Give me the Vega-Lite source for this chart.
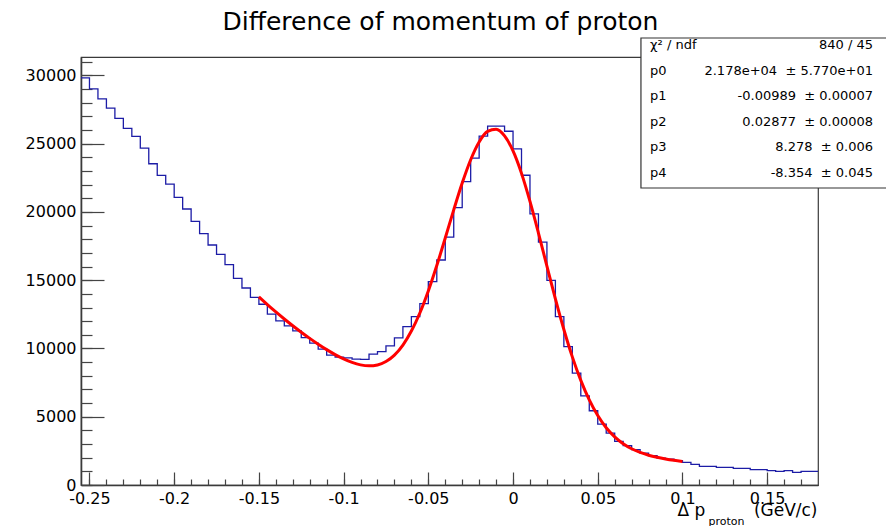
{
  "$schema": "https://vega.github.io/schema/vega-lite/v6.json",
  "width": 737,
  "height": 428,
  "autosize": {"type": "none"},
  "padding": {"left": 81, "top": 57, "right": 68, "bottom": 41},
  "background": "white",
  "config": {
    "view": {"stroke": "#3a3a3a", "strokeWidth": 1.2},
    "font": "DejaVu Sans",
    "axis": {"grid": false, "domain": false, "labelFont": "DejaVu Sans", "titleFont": "DejaVu Sans", "titleFontWeight": "normal", "titleColor": "#000", "labelColor": "#000", "tickColor": "#444", "tickWidth": 1.2, "labelFlush": false, "labelOverlap": false}
  },
  "title": {"text": "Difference of momentum of proton", "fontSize": 25, "font": "DejaVu Sans", "fontWeight": "normal", "anchor": "middle", "baseline": "alphabetic", "offset": 4, "dx": -9, "dy": 22, "color": "#000"},
  "datasets": {
    "hist": [
      {"dp": -0.255, "entries": 29825}, {"dp": -0.25, "entries": 29020}, {"dp": -0.245, "entries": 28290}, {"dp": -0.24, "entries": 27600},
      {"dp": -0.235, "entries": 26850}, {"dp": -0.23, "entries": 26115}, {"dp": -0.225, "entries": 25530}, {"dp": -0.22, "entries": 24675},
      {"dp": -0.215, "entries": 23530}, {"dp": -0.21, "entries": 22680}, {"dp": -0.205, "entries": 22040}, {"dp": -0.2, "entries": 21070},
      {"dp": -0.195, "entries": 20215}, {"dp": -0.19, "entries": 19310}, {"dp": -0.185, "entries": 18410}, {"dp": -0.18, "entries": 17580},
      {"dp": -0.175, "entries": 16900}, {"dp": -0.17, "entries": 16140}, {"dp": -0.165, "entries": 15140}, {"dp": -0.16, "entries": 14430},
      {"dp": -0.155, "entries": 13750}, {"dp": -0.15, "entries": 13240}, {"dp": -0.145, "entries": 12510}, {"dp": -0.14, "entries": 12020},
      {"dp": -0.135, "entries": 11650}, {"dp": -0.13, "entries": 11290}, {"dp": -0.125, "entries": 10800}, {"dp": -0.12, "entries": 10390},
      {"dp": -0.115, "entries": 9950}, {"dp": -0.11, "entries": 9510}, {"dp": -0.105, "entries": 9360}, {"dp": -0.1, "entries": 9310},
      {"dp": -0.095, "entries": 9220}, {"dp": -0.09, "entries": 9200}, {"dp": -0.085, "entries": 9590}, {"dp": -0.08, "entries": 9770},
      {"dp": -0.075, "entries": 10190}, {"dp": -0.07, "entries": 10770}, {"dp": -0.065, "entries": 11600}, {"dp": -0.06, "entries": 12340},
      {"dp": -0.055, "entries": 13290}, {"dp": -0.05, "entries": 14900}, {"dp": -0.045, "entries": 16480}, {"dp": -0.04, "entries": 18160},
      {"dp": -0.035, "entries": 20310}, {"dp": -0.03, "entries": 22215}, {"dp": -0.025, "entries": 23940}, {"dp": -0.02, "entries": 25550},
      {"dp": -0.015, "entries": 26280}, {"dp": -0.01, "entries": 26280}, {"dp": -0.005, "entries": 25910}, {"dp": 0, "entries": 24620},
      {"dp": 0.005, "entries": 22690}, {"dp": 0.01, "entries": 19860}, {"dp": 0.015, "entries": 17790}, {"dp": 0.02, "entries": 14990},
      {"dp": 0.025, "entries": 12330}, {"dp": 0.03, "entries": 10130}, {"dp": 0.035, "entries": 8190}, {"dp": 0.04, "entries": 6535},
      {"dp": 0.045, "entries": 5440}, {"dp": 0.05, "entries": 4460}, {"dp": 0.055, "entries": 3800}, {"dp": 0.06, "entries": 3190},
      {"dp": 0.065, "entries": 2880}, {"dp": 0.07, "entries": 2590}, {"dp": 0.075, "entries": 2340}, {"dp": 0.08, "entries": 2145},
      {"dp": 0.085, "entries": 1975}, {"dp": 0.09, "entries": 1900}, {"dp": 0.095, "entries": 1780}, {"dp": 0.1, "entries": 1660},
      {"dp": 0.105, "entries": 1510}, {"dp": 0.11, "entries": 1370}, {"dp": 0.115, "entries": 1370}, {"dp": 0.12, "entries": 1290},
      {"dp": 0.125, "entries": 1290}, {"dp": 0.13, "entries": 1220}, {"dp": 0.135, "entries": 1220}, {"dp": 0.14, "entries": 1120},
      {"dp": 0.145, "entries": 1120}, {"dp": 0.15, "entries": 1050}, {"dp": 0.155, "entries": 1000}, {"dp": 0.16, "entries": 1050},
      {"dp": 0.165, "entries": 930}, {"dp": 0.17, "entries": 1000}, {"dp": 0.175, "entries": 1000}, {"dp": 0.18, "entries": 1000}
    ],
    "fit": [
      {"dp": -0.15, "fit": 13781}, {"dp": -0.145, "fit": 13217}, {"dp": -0.14, "fit": 12677}, {"dp": -0.135, "fit": 12159},
      {"dp": -0.13, "fit": 11664}, {"dp": -0.125, "fit": 11190}, {"dp": -0.12, "fit": 10739}, {"dp": -0.115, "fit": 10314},
      {"dp": -0.11, "fit": 9916}, {"dp": -0.105, "fit": 9554}, {"dp": -0.1, "fit": 9236}, {"dp": -0.095, "fit": 8977},
      {"dp": -0.09, "fit": 8798}, {"dp": -0.085, "fit": 8727}, {"dp": -0.08, "fit": 8796}, {"dp": -0.075, "fit": 9046},
      {"dp": -0.07, "fit": 9518}, {"dp": -0.065, "fit": 10252}, {"dp": -0.06, "fit": 11275}, {"dp": -0.055, "fit": 12601},
      {"dp": -0.05, "fit": 14217}, {"dp": -0.045, "fit": 16075}, {"dp": -0.04, "fit": 18092}, {"dp": -0.035, "fit": 20154},
      {"dp": -0.03, "fit": 22116}, {"dp": -0.025, "fit": 23824}, {"dp": -0.02, "fit": 25127}, {"dp": -0.015, "fit": 25900},
      {"dp": -0.01, "fit": 26059}, {"dp": -0.005, "fit": 25572}, {"dp": 0, "fit": 24466}, {"dp": 0.005, "fit": 22825},
      {"dp": 0.01, "fit": 20771}, {"dp": 0.015, "fit": 18455}, {"dp": 0.02, "fit": 16027}, {"dp": 0.025, "fit": 13634},
      {"dp": 0.03, "fit": 11393}, {"dp": 0.035, "fit": 9386}, {"dp": 0.04, "fit": 7661}, {"dp": 0.045, "fit": 6232},
      {"dp": 0.05, "fit": 5087}, {"dp": 0.055, "fit": 4197}, {"dp": 0.06, "fit": 3525}, {"dp": 0.065, "fit": 3023},
      {"dp": 0.07, "fit": 2655}, {"dp": 0.075, "fit": 2384}, {"dp": 0.08, "fit": 2183}, {"dp": 0.085, "fit": 2030},
      {"dp": 0.09, "fit": 1909}, {"dp": 0.095, "fit": 1808}, {"dp": 0.1, "fit": 1722}
    ],
    "stats": [
      {"label": "χ² / ndf", "value": "840 / 45"},
      {"label": "p0", "value": "2.178e+04\u00a0\u00a0± 5.770e+01"},
      {"label": "p1", "value": "-0.00989\u00a0\u00a0± 0.00007"},
      {"label": "p2", "value": "0.02877\u00a0\u00a0± 0.00008"},
      {"label": "p3", "value": "8.278\u00a0\u00a0± 0.006"},
      {"label": "p4", "value": "-8.354\u00a0\u00a0± 0.045"}
    ]
  },
  "layer": [
    {
      "layer": [
        {
          "data": {"name": "hist"},
          "mark": {"type": "line", "interpolate": "step-after", "color": "#1c1ca6", "strokeWidth": 1.3},
          "encoding": {
            "x": {"field": "dp", "type": "quantitative", "scale": {"domain": [-0.255, 0.18], "nice": false, "zero": false},
              "axis": {"orient": "bottom", "values": [-0.25, -0.2, -0.15, -0.1, -0.05, 0, 0.05, 0.1, 0.15], "ticks": false, "domain": true, "domainColor": "#3a3a3a", "domainWidth": 1.5,
                "labelExpr": "'' + datum.value", "labelFontSize": 16, "labelPadding": 5,
                "title": "Δ p", "titleFontSize": 17, "titleAlign": "left", "titleBaseline": "alphabetic", "titleAnchor": "start", "titleX": 596, "titleY": 30}},
            "y": {"field": "entries", "type": "quantitative", "scale": {"domain": [0, 31350], "nice": false, "zero": false},
              "axis": {"orient": "left", "values": [0, 5000, 10000, 15000, 20000, 25000, 30000], "ticks": false, "domain": true, "domainColor": "#3a3a3a", "domainWidth": 1.6,
                "labelExpr": "'' + datum.value", "labelFontSize": 16, "labelPadding": 5, "title": null}}
          }
        },
        {
          "data": {"name": "fit"},
          "mark": {"type": "line", "interpolate": "monotone", "color": "#ff0000", "strokeWidth": 3},
          "encoding": {
            "x": {"field": "dp", "type": "quantitative", "scale": {"domain": [-0.255, 0.18], "nice": false, "zero": false},
              "axis": {"orient": "bottom", "values": [-0.25, -0.2, -0.15, -0.1, -0.05, 0, 0.05, 0.1, 0.15], "labels": false, "tickSize": -13,
                "title": "proton", "titleFontSize": 11, "titleAlign": "left", "titleBaseline": "alphabetic", "titleAnchor": "start", "titleX": 627, "titleY": 39}},
            "y": {"field": "fit", "type": "quantitative", "scale": {"domain": [0, 31350], "nice": false, "zero": false},
              "axis": {"orient": "left", "values": [0, 5000, 10000, 15000, 20000, 25000, 30000], "labels": false, "tickSize": -23, "title": null}}
          }
        },
        {
          "data": {"values": [{}]},
          "mark": {"type": "rect", "fill": "white", "stroke": "#333", "strokeWidth": 1.2},
          "encoding": {
            "x": {"datum": 0.0755, "type": "quantitative", "scale": {"domain": [-0.255, 0.18], "nice": false, "zero": false},
              "axis": {"orient": "bottom", "values": [-0.25, -0.24, -0.23, -0.22, -0.21, -0.2, -0.19, -0.18, -0.17, -0.16, -0.15, -0.14, -0.13, -0.12, -0.11, -0.1, -0.09, -0.08, -0.07, -0.06, -0.05, -0.04, -0.03, -0.02, -0.01, 0, 0.01, 0.02, 0.03, 0.04, 0.05, 0.06, 0.07, 0.08, 0.09, 0.1, 0.11, 0.12, 0.13, 0.14, 0.15, 0.16, 0.17], "labels": false, "tickSize": -6,
                "title": "(GeV/c)", "titleFontSize": 17, "titleAlign": "right", "titleBaseline": "alphabetic", "titleAnchor": "end", "titleX": 736, "titleY": 30}},
            "x2": {"datum": 0.2205},
            "y": {"datum": 32741, "type": "quantitative", "scale": {"domain": [0, 31350], "nice": false, "zero": false},
              "axis": {"orient": "left", "values": [0, 1000, 2000, 3000, 4000, 5000, 6000, 7000, 8000, 9000, 10000, 11000, 12000, 13000, 14000, 15000, 16000, 17000, 18000, 19000, 20000, 21000, 22000, 23000, 24000, 25000, 26000, 27000, 28000, 29000, 30000, 31000], "labels": false, "tickSize": -11, "title": null}},
            "y2": {"datum": 21754}
          }
        }
      ],
      "resolve": {"axis": {"x": "independent", "y": "independent"}}
    },
    {
      "data": {"name": "stats"},
      "encoding": {
        "y": {"field": "label", "type": "ordinal", "sort": null, "scale": {"type": "point", "range": [-12, 115.7], "padding": 0}, "axis": null}
      },
      "layer": [
        {
          "mark": {"type": "text", "align": "left", "baseline": "middle", "fontSize": 13, "font": "DejaVu Sans", "color": "#000"},
          "encoding": {"x": {"datum": 0.0809, "type": "quantitative", "axis": null}, "text": {"field": "label"}}
        },
        {
          "mark": {"type": "text", "align": "right", "baseline": "middle", "fontSize": 13, "font": "DejaVu Sans", "color": "#000"},
          "encoding": {"x": {"datum": 0.2125, "type": "quantitative", "axis": null}, "text": {"field": "value"}}
        }
      ]
    }
  ],
  "resolve": {"scale": {"y": "independent"}, "axis": {"x": "independent", "y": "independent"}}
}
